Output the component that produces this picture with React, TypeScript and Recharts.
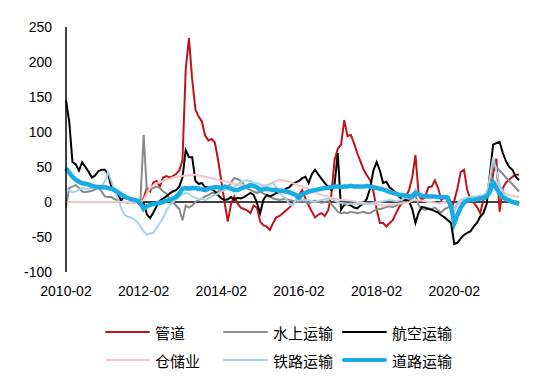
import React from "react";
import { LineChart, Line, XAxis, YAxis, ReferenceLine } from "recharts";

// 月份：2010-02 ~ 2021-10
const startYear = 2010;
const startMonth = 2;
const monthCount = 141;
const months: string[] = [];
for (let i = 0; i < monthCount; i++) {
  const m = startMonth - 1 + i;
  const y = startYear + Math.floor(m / 12);
  const mm = (m % 12) + 1;
  months.push(`${y}-${mm < 10 ? "0" + mm : mm}`);
}

const yTicks = [-100, -50, 0, 50, 100, 150, 200, 250];

// 管道
const pipeline = [
  0, 0, 0, 0, 0, 0, 0, 0, 0, 0, 0, 0,
  0, 0, 0, 0, 0, 0, 0, 0, 0, 0, 0, 0,
  5, 20, 15, 28, 30, 22, 35, 37, 35, 37, 40, 45,
  60, 190, 234, 175, 132, 122, 115, 95, 88, 90, 85, 60,
  30, 0, -28, -3, 8, -2, -8, -10, -12, -16, -5, -8,
  -28, -33, -35, -40, -30, -22, -20, -16, -12, -8, -3, 2,
  10, 17, 5, -5, -14, -22, -18, -16, -20, -12, 10, 60,
  76, 82, 117, 94, 96, 84, 70, 58, 46, 38, 31, 15,
  -10, -30, -30, -35, -30, -26, -16, -7, -1, 7, 17, 35,
  67, 10, 3, 8, 21, 22, 31, 20, 3, 7, 3, -11,
  2, 20, 43, 46, 17, 3, -1, -7, -16, 3, 7, 12,
  40, 62, -14, 20, 28, 32, 36, 39, 39,
];

// 水上运输
const water = [
  -7, 20, 22, 24, 20, 15, 14, 15, 16, 18, 21, 15,
  8, 7, 7, 4, 3, 2, 0, -1, 0, -1, 0, 2,
  96, 15, 18, 20, 22, 20, 15, 12, 5, 0, -5, -10,
  -26, -5, -8, -5, 0, 3, 5, 8, 10, 13, 13, 15,
  16, 18, 21, 28, 34, 33, 30, 25, 20, 17, 15, 13,
  15, 12, 10, 8, 5, 4, 3, 4, 5, 3, 2, 0,
  0, 1, 0, -2, 0, 2, 0, -1, 0, 1, -3, -8,
  -14, -16, -15, -16, -14, -15, -16, -15, -14, -16, -16, -13,
  -11, -10, -9, -7, -6, -7, -5, -3, 0, 2, 3, 5,
  10, -5, -10, -11, -9, -10, -8, -12, -15, -10, -8, -5,
  -10, -2, 2, 4, 5, 6, 5, 6, 8, 10, 12, 30,
  57, 50, 45, 40, 35, 30, 25, 20, 15,
];

// 航空运输
const air = [
  145, 115, 57, 54, 45, 57, 50, 43, 35, 38, 44, 46,
  46, 40, 22, 18, 10, 3, 7, 5, 4, 3, 0, -5,
  -2, -18, -23, -15, -6, 2, 5, 8, 12, 15, 17, 22,
  35, 74, 64, 64, 30, 26, 27, 21, 21, 19, 15, 10,
  5, 3, 4, 7, 3, 6, 5, 7, 10, 13, 10, -1,
  -16, 3, 10, 8, 10, 13, 14, 16, 19, 21, 26, 28,
  30, 34, 36, 27, 40, 46, 39, 33, 27, 22, 17, 25,
  70, -11, -4, -3, -5, -8, -9, -5, -2, 5, 20, 45,
  57, 45, 27, 29, 21, 17, 13, 7, 4, 3, 1, -10,
  -30, -15, -7, -8, -10, -11, -13, -15, -19, -22, -26, -30,
  -60, -58, -52, -47, -44, -42, -35, -30, -21, -16, -3, 40,
  82, 84, 86, 70, 58, 50, 46, 36, 31,
];

// 仓储业
const storage = [
  0, 0, 0, 0, 0, 0, 0, 0, 0, 0, 0, 0,
  0, 0, 0, 0, 0, 0, 0, 0, 0, 0, 0, 0,
  3, 12, 20, 24, 27, 28, 30, 32, 33, 35, 36, 36,
  37, 38, 38, 39, 39, 38, 37, 36, 35, 34, 33, 32,
  30, 30, 28, 27, 26, 25, 24, 24, 23, 23, 22, 21,
  21, 22, 24, 26, 28, 30, 32, 31, 30, 29, 27, 25,
  23, 22, 20, 18, 16, 14, 12, 10, 9, 8, 6, 5,
  4, 3, 3, 2, 2, 1, 0, 0, -1, -2, -3, -3,
  -4, -4, -5, -5, -4, -4, -3, -2, -2, -1, 0, 2,
  3, 2, 2, 1, 0, 0, -1, -2, -1, 0, -2, -8,
  -15, -5, 0, 3, 5, 6, 7, 8, 8, 9, 10, 14,
  25, 30, 20, 14, 12, 10, 9, 8, 7,
];

// 铁路运输
const railway = [
  20, 16, 14, 15, 18, 20, 19, 19, 20, 21, 21, 22,
  30, 43, 30, 17, 5, -8, -18, -21, -22, -25, -28, -35,
  -42, -47, -45, -44, -37, -30, -23, -12, -5, 0, 4, 8,
  11, 13, 12, 8, 6, 4, 5, 3, 5, 8, 10, 12,
  15, 17, 18, 20, 22, 25, 28, 30, 31, 30, 28, 27,
  25, 24, 23, 25, 27, 20, 12, 8, 5, -3, -5, 3,
  5, 4, 3, 2, 1, 0, 2, 3, 4, 5, 4, 2,
  0, -1, -2, -3, -2, -3, -3, -2, -3, -3, -2, -1,
  0, 0, 1, 2, 3, 2, 1, 2, 4, 6, 8, 10,
  18, 10, 8, 7, 6, 7, 8, 7, 6, 5, 3, -5,
  -12, -2, 3, 5, 6, 7, 8, 8, 9, 10, 12, 35,
  64, 45, 25, 15, 8, 4, 1, -2, -4,
];

// 道路运输
const road = [
  48, 42, 36, 32, 29, 27, 26, 25, 23, 22, 21, 21,
  21, 20, 19, 17, 14, 11, 8, 6, 4, 3, 2, -2,
  -10, -6, -4, -3, -2, -1, 0, 2, 3, 5, 7, 12,
  19, 20, 19, 20, 20, 19, 18, 17, 19, 20, 21, 21,
  20, 22, 21, 19, 17, 17, 19, 21, 22, 24, 23, 21,
  17, 18, 19, 18, 17, 17, 16, 16, 15, 14, 12, 10,
  6, 11, 13, 15, 16, 17, 18, 19, 20, 20, 21, 22,
  22, 21, 22, 22, 23, 22, 22, 22, 22, 23, 22, 21,
  20, 19, 18, 16, 14, 13, 12, 10, 10, 9, 8, 8,
  13, 11, 9, 8, 8, 8, 8, 7, 7, 7, 6, -7,
  -30, -18, -8, -1, 2, 3, 3, 4, 5, 6, 8, 15,
  28, 20, 12, 7, 4, 2, 0, -1, -3,
];

const series = [
  { key: "管道", values: pipeline, color: "#c0141c", width: 2 },
  { key: "水上运输", values: water, color: "#8a8a8a", width: 2 },
  { key: "航空运输", values: air, color: "#000000", width: 2 },
  { key: "仓储业", values: storage, color: "#f2c6c8", width: 2 },
  { key: "铁路运输", values: railway, color: "#a8d4e2", width: 2 },
  { key: "道路运输", values: road, color: "#17ace6", width: 4.5 },
];

const data = months.map((m, i) => {
  const row: Record<string, string | number> = { month: m };
  series.forEach((s) => {
    row[s.key] = s.values[i];
  });
  return row;
});

const tickStyle = { fill: "#000", fontSize: 14, fontFamily: "'Liberation Sans', Arial, sans-serif" };

export default function App() {
  return (
    <div style={{ position: "absolute", left: 0, top: 0, width: 550, height: 383, background: "#fff" }}>
      <LineChart width={550} height={383} data={data} margin={{ top: 27, right: 31, left: 0, bottom: 81 }}>
        <XAxis
          dataKey="month"
          interval={23}
          height={30}
          axisLine={false}
          tickLine={false}
          tickMargin={8}
          tick={tickStyle}
        />
        <YAxis
          domain={[-100, 250]}
          ticks={yTicks}
          width={66}
          axisLine={{ stroke: "#000", strokeWidth: 1.5 }}
          tickLine={false}
          tickMargin={8}
          tick={tickStyle}
        />
        <ReferenceLine y={0} stroke="#000" strokeWidth={1.5} />
        {series.map((s) => (
          <Line
            key={s.key}
            dataKey={s.key}
            stroke={s.color}
            strokeWidth={s.width}
            dot={false}
            activeDot={false}
            isAnimationActive={false}
          />
        ))}
      </LineChart>
      {series.map((s, i) => {
        const col = i % 3;
        const row = Math.floor(i / 3);
        const left = [105, 223, 342][col];
        const top = [332, 360][row];
        return (
          <div
            key={s.key}
            style={{
              position: "absolute",
              left,
              top: top - 11,
              height: 22,
              display: "flex",
              alignItems: "center",
              fontFamily: "'Noto Sans CJK SC', sans-serif",
              fontSize: 15,
              color: "#000",
              whiteSpace: "nowrap",
            }}
          >
            <span
              style={{
                display: "inline-block",
                width: 45,
                height: s.width > 3 ? 4 : 2.5,
                background: s.color,
                borderRadius: 2,
                marginRight: 5,
              }}
            />
            {s.key}
          </div>
        );
      })}
    </div>
  );
}
